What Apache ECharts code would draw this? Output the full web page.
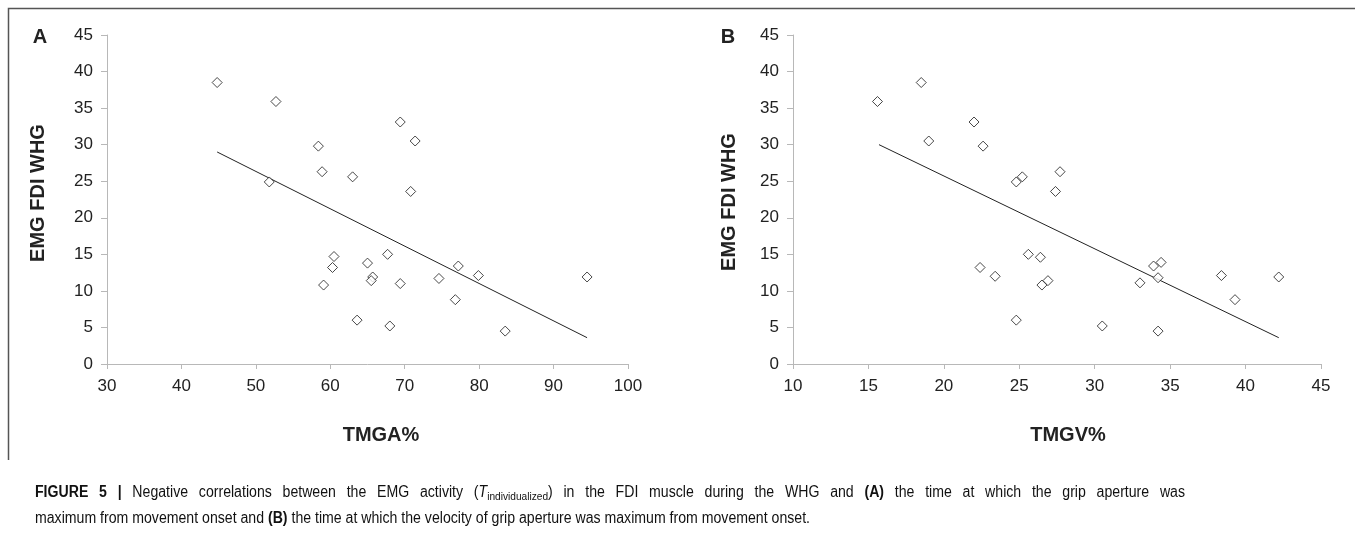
<!DOCTYPE html>
<html>
<head>
<meta charset="utf-8">
<script src="https://cdn.jsdelivr.net/npm/echarts@6/dist/echarts.min.js"></script>
<style>
html,body{margin:0;padding:0;background:#fff;}
#c{width:1355px;height:533px;}
</style>
</head>
<body>
<div id="c"></div>
<script>
// Panel A: TMGA% vs EMG FDI WHG
var aX = [44.8, 52.7, 69.4, 71.4, 58.4, 58.9, 51.8, 63.0, 70.8, 60.5, 60.3, 59.1, 65.0, 67.7, 65.7, 65.5, 69.4, 63.6, 68.0, 74.6, 77.2, 79.9, 76.8, 83.5, 94.5];
var aY = [38.5, 35.9, 33.1, 30.5, 29.8, 26.3, 24.9, 25.6, 23.6, 14.7, 13.2, 10.8, 13.8, 15.0, 11.9, 11.4, 11.0, 6.0, 5.2, 11.7, 13.4, 12.1, 8.8, 4.5, 11.9];
var aTrendX = [44.8, 94.5];
var aTrendY = [29.0, 3.6];
// Panel B: TMGV% vs EMG FDI WHG
var bX = [15.6, 18.5, 19.0, 22.0, 22.6, 24.8, 25.2, 27.7, 27.4, 22.4, 23.4, 25.6, 26.4, 26.5, 26.9, 24.8, 30.5, 33.0, 33.9, 34.4, 34.2, 34.2, 38.4, 39.3, 42.2];
var bY = [35.9, 38.5, 30.5, 33.1, 29.8, 24.9, 25.6, 26.3, 23.6, 13.2, 12.0, 15.0, 14.6, 10.8, 11.4, 6.0, 5.2, 11.1, 13.4, 13.9, 11.8, 4.5, 12.1, 8.8, 11.9];
var bTrendX = [15.7, 42.2];
var bTrendY = [30.0, 3.6];
// Axes
var aXTicks = {min: 30, max: 100, interval: 10};
var bXTicks = {min: 10, max: 45, interval: 5};
var yTicks = {min: 0, max: 45, interval: 5};
var yName = 'EMG FDI WHG';
var aXName = 'TMGA%';
var bXName = 'TMGV%';
// Caption (line 1 is justified, line 2 is the natural last line)
var captionLine1 = '{b|FIGURE} {b|5} {b||} Negative correlations between the EMG activity ({i|T}{sub|individualized}) in the FDI muscle during the WHG and {b|(A)} the time at which the grip aperture was';
var captionLine2 = 'maximum from movement onset and {b|(B)} the time at which the velocity of grip aperture was maximum from movement onset.';

function pairs(xs, ys){ return xs.map(function(x,i){ return [x, ys[i]]; }); }

var FONT = '"Liberation Sans", Arial, Helvetica, sans-serif';
var axisCol = '#b8b8b8';
var capLeft = 35, capRight = 1185, line2Right = 810;
var CAP = 16, SUB = 11.5;

var mctx = document.createElement('canvas').getContext('2d');
function segFont(k){
  if (k === 'b') return 'bold ' + CAP + 'px ' + FONT;
  if (k === 'i') return 'italic ' + CAP + 'px ' + FONT;
  if (k === 'sub') return SUB + 'px ' + FONT;
  return CAP + 'px ' + FONT;
}
function measureWord(w){
  var re = /\{([a-zA-Z0-9_]+)\|([^}]*)\}/g, last = 0, m, total = 0;
  function add(k, t){ if (!t) return; mctx.font = segFont(k); total += mctx.measureText(t).width; }
  while ((m = re.exec(w))) { add('n', w.slice(last, m.index)); add(m[1], m[2]); last = re.lastIndex; }
  add('n', w.slice(last));
  return total;
}
// condensed look: squeeze horizontally so the natural last line spans the figure's width
var SX = (line2Right - capLeft) / measureWord(captionLine2);

var rich = {
  b: {fontWeight: 'bold', fontSize: CAP, fontFamily: FONT, fill: '#111', lineHeight: 20},
  i: {fontStyle: 'italic', fontSize: CAP, fontFamily: FONT, fill: '#111', lineHeight: 20},
  sub: {fontSize: SUB, fontFamily: FONT, fill: '#111', lineHeight: 9, verticalAlign: 'bottom'}
};

function xAxisCfg(idx, t){
  return {gridIndex: idx, type: 'value', min: t.min, max: t.max, interval: t.interval,
    axisLine: {show: true, lineStyle: {color: axisCol, width: 1}},
    axisTick: {show: true, length: 5, lineStyle: {color: axisCol}},
    splitLine: {show: false},
    axisLabel: {color: '#222', fontSize: 17, fontFamily: FONT, margin: 14}};
}
function yAxisCfg(idx){
  return {gridIndex: idx, type: 'value', min: yTicks.min, max: yTicks.max, interval: yTicks.interval,
    axisLine: {show: true, lineStyle: {color: axisCol, width: 1}},
    axisTick: {show: true, length: 6, lineStyle: {color: axisCol}},
    splitLine: {show: false},
    axisLabel: {color: '#222', fontSize: 17, fontFamily: FONT, margin: 14}};
}

function capText(str, x, y){
  return {type: 'text', x: x, y: y, scaleX: SX, originX: 0, originY: 0,
    style: {text: str, fill: '#111', fontSize: CAP, fontFamily: FONT, lineHeight: 20, verticalAlign: 'middle', rich: rich}};
}

var graphics = [
  {type: 'polyline', shape: {points: [[8.5, 460], [8.5, 8.5], [1360, 8.5]]}, style: {stroke: '#555', lineWidth: 1.5, fill: null}},
  {type: 'text', x: 40, y: 37, style: {text: 'A', font: 'bold 20px ' + FONT, fill: '#222', align: 'center', verticalAlign: 'middle'}},
  {type: 'text', x: 728, y: 37, style: {text: 'B', font: 'bold 20px ' + FONT, fill: '#222', align: 'center', verticalAlign: 'middle'}},
  {type: 'text', x: 38, y: 193, rotation: Math.PI/2, style: {text: yName, font: 'bold 20px ' + FONT, fill: '#222', align: 'center', verticalAlign: 'middle'}},
  {type: 'text', x: 729, y: 202, rotation: Math.PI/2, style: {text: yName, font: 'bold 20px ' + FONT, fill: '#222', align: 'center', verticalAlign: 'middle'}},
  {type: 'text', x: 381, y: 435, style: {text: aXName, font: 'bold 20px ' + FONT, fill: '#222', align: 'center', verticalAlign: 'middle'}},
  {type: 'text', x: 1068, y: 435, style: {text: bXName, font: 'bold 20px ' + FONT, fill: '#222', align: 'center', verticalAlign: 'middle'}},
  capText(captionLine2, capLeft, 519)
];

// justified first caption line
(function(){
  var words = captionLine1.split(' ');
  var widths = words.map(function(w){ return measureWord(w) * SX; });
  var sum = widths.reduce(function(a, b){ return a + b; }, 0);
  var gap = (capRight - capLeft - sum) / (words.length - 1);
  var x = capLeft;
  words.forEach(function(w, i){
    graphics.push(capText(w, x, 493));
    x += widths[i] + gap;
  });
})();

var chart = echarts.init(document.getElementById('c'), null, {renderer: 'canvas'});
chart.setOption({
  animation: false,
  backgroundColor: '#fff',
  grid: [
    {left: 107, top: 35, width: 521, height: 329},
    {left: 793, top: 35, width: 528, height: 329}
  ],
  xAxis: [xAxisCfg(0, aXTicks), xAxisCfg(1, bXTicks)],
  yAxis: [yAxisCfg(0), yAxisCfg(1)],
  series: [
    {type: 'scatter', xAxisIndex: 0, yAxisIndex: 0, data: pairs(aX, aY), symbol: 'diamond', symbolSize: 10,
     itemStyle: {color: '#fff', borderColor: '#1a1a1a', borderWidth: 1}, z: 3},
    {type: 'line', xAxisIndex: 0, yAxisIndex: 0, data: pairs(aTrendX, aTrendY), symbol: 'none',
     lineStyle: {color: '#222', width: 1}, z: 2},
    {type: 'scatter', xAxisIndex: 1, yAxisIndex: 1, data: pairs(bX, bY), symbol: 'diamond', symbolSize: 10,
     itemStyle: {color: '#fff', borderColor: '#1a1a1a', borderWidth: 1}, z: 3},
    {type: 'line', xAxisIndex: 1, yAxisIndex: 1, data: pairs(bTrendX, bTrendY), symbol: 'none',
     lineStyle: {color: '#222', width: 1}, z: 2}
  ],
  graphic: graphics
});
</script>
</body>
</html>
